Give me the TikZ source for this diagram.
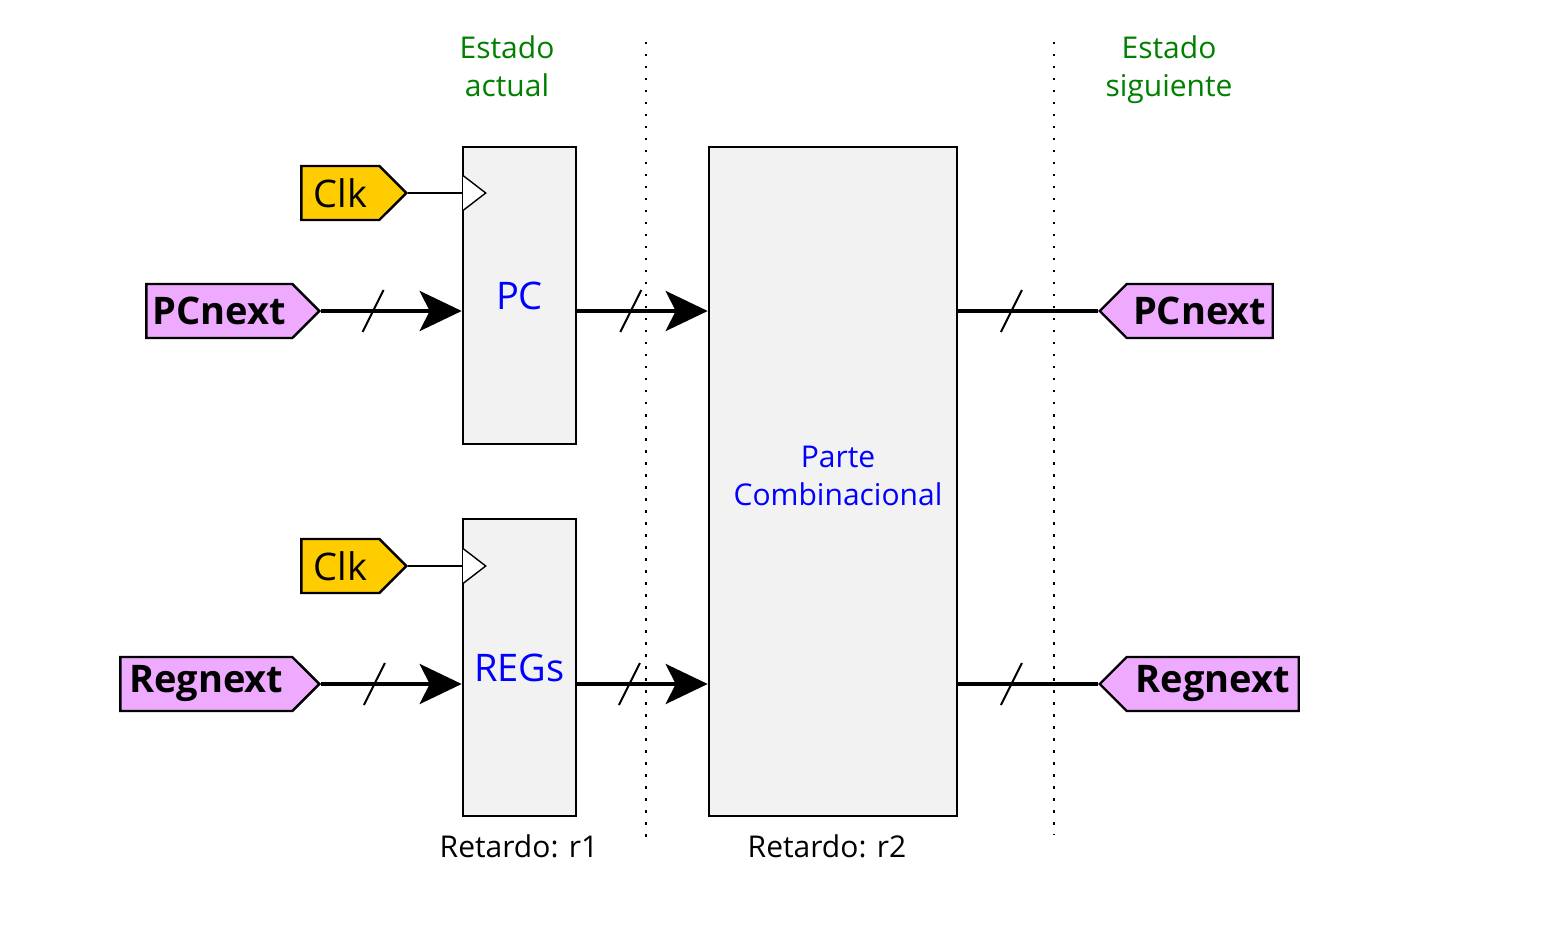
\documentclass[tikz,border=0pt]{standalone}
\usepackage{fontspec}
\setmainfont{Open Sans}
\usetikzlibrary{arrows.meta,shapes.symbols,calc}

\definecolor{clkyellow}{RGB}{255,204,0}
\definecolor{tagviolet}{RGB}{238,170,255}
\definecolor{boxgray}{RGB}{242,242,242}
\definecolor{stategreen}{RGB}{0,128,0}

\tikzset{
  block/.style={draw=black, line width=1.3pt, fill=boxgray, inner sep=0pt, text=blue},
  clktag/.style={signal, signal to=east, draw=black, line width=1.2pt, fill=clkyellow,
    minimum height=27pt, inner sep=2pt, font=\fontsize{19}{21}\selectfont},
  intag/.style={signal, signal to=east, draw=black, line width=1.2pt, fill=tagviolet,
    minimum height=27pt, inner sep=2pt, font=\fontsize{19}{21}\selectfont\bfseries},
  outtag/.style={signal, signal to=west, draw=black, line width=1.2pt, fill=tagviolet,
    minimum height=27pt, inner sep=2pt, font=\fontsize{19}{21}\selectfont\bfseries},
  bus/.style={line width=2pt, -{Stealth[length=21pt,width=20pt,inset=5pt]}},
  busline/.style={line width=2pt},
  slash/.style={line width=1pt},
  clkline/.style={line width=0.7pt},
  divider/.style={line width=1.25pt, dash pattern=on 1.25pt off 4.75pt},
  statelabel/.style={text=stategreen, align=center, anchor=north, font=\fontsize{15}{19}\selectfont},
  delay/.style={font=\fontsize{15}{17}\selectfont}
}

\begin{document}
\begin{tikzpicture}[x=0.5pt,y=-0.5pt,line join=miter]
\useasboundingbox (0,0) rectangle (1549,941);

% separadores
\draw[divider] (646,42) -- (646,845);
\draw[divider] (1054,42) -- (1054,835);

% registros y parte combinacional
\node[block, minimum width=56.5pt, minimum height=148.5pt, font=\fontsize{19}{21}\selectfont] (pc) at (519.5,295.5) {PC};
\node[block, minimum width=56.5pt, minimum height=148.5pt, font=\fontsize{19}{21}\selectfont] (regs) at (519.5,667.5) {REGs};
\node[block, minimum width=124pt, minimum height=334.5pt] (comb) at (833,481.5) {};
\node[text=blue, align=center, font=\fontsize{15}{19}\selectfont] (combtext) at (838,476) {Parte\\Combinacional};

% etiquetas de entrada y salida
\node[clktag, minimum width=52.5pt, anchor=east] (clk1) at (408,193) {Clk};
\node[intag, minimum width=86.5pt, anchor=east] (pcin) at (321,311) {PCnext};
\node[clktag, minimum width=52.5pt, anchor=east] (clk2) at (408,566) {Clk};
\node[intag, minimum width=99.5pt, anchor=east] (regin) at (321,684) {Regnext};
\node[outtag, minimum width=86.5pt, anchor=west] (pcout) at (1098,311) {PCnext};
\node[outtag, minimum width=99.5pt, anchor=west] (regout) at (1098,684) {Regnext};

% reloj
\draw[clkline] (clk1.east) -- (clk1.east -| pc.west);
\draw[clkline, fill=white] ($(clk1.east -| pc.west)+(1.3,-17.5)$) -- ++(22.7,17.5) -- ++(-22.7,17.5);
\draw[clkline] (clk2.east) -- (clk2.east -| regs.west);
\draw[clkline, fill=white] ($(clk2.east -| regs.west)+(1.3,-17.5)$) -- ++(22.7,17.5) -- ++(-22.7,17.5);

% buses
\draw[bus] (pcin.east) -- coordinate[pos=0.37] (s1) (pcin.east -| pc.west);
\draw[bus] (pcin.east -| pc.east) -- coordinate[pos=0.41] (s2) (pcin.east -| comb.west);
\draw[busline] (pcin.east -| comb.east) -- coordinate[pos=0.38] (s3) (pcout.west);
\draw[bus] (regin.east) -- coordinate[pos=0.38] (s4) (regin.east -| regs.west);
\draw[bus] (regin.east -| regs.east) -- coordinate[pos=0.40] (s5) (regin.east -| comb.west);
\draw[busline] (regin.east -| comb.east) -- coordinate[pos=0.38] (s6) (regout.west);
\foreach \s in {s1,s2,s3,s4,s5,s6}
  \draw[slash] (\s) ++(-10.5,21) -- ++(21,-42);

% textos
\node[statelabel] (actual) at (507,29) {Estado\\actual};
\node[statelabel] (siguiente) at (1169,29) {Estado\\siguiente};
\node[delay] (r1) at (519,846) {Retardo: r1};
\node[delay] (r2) at (827,846) {Retardo: r2};

\end{tikzpicture}
\end{document}
